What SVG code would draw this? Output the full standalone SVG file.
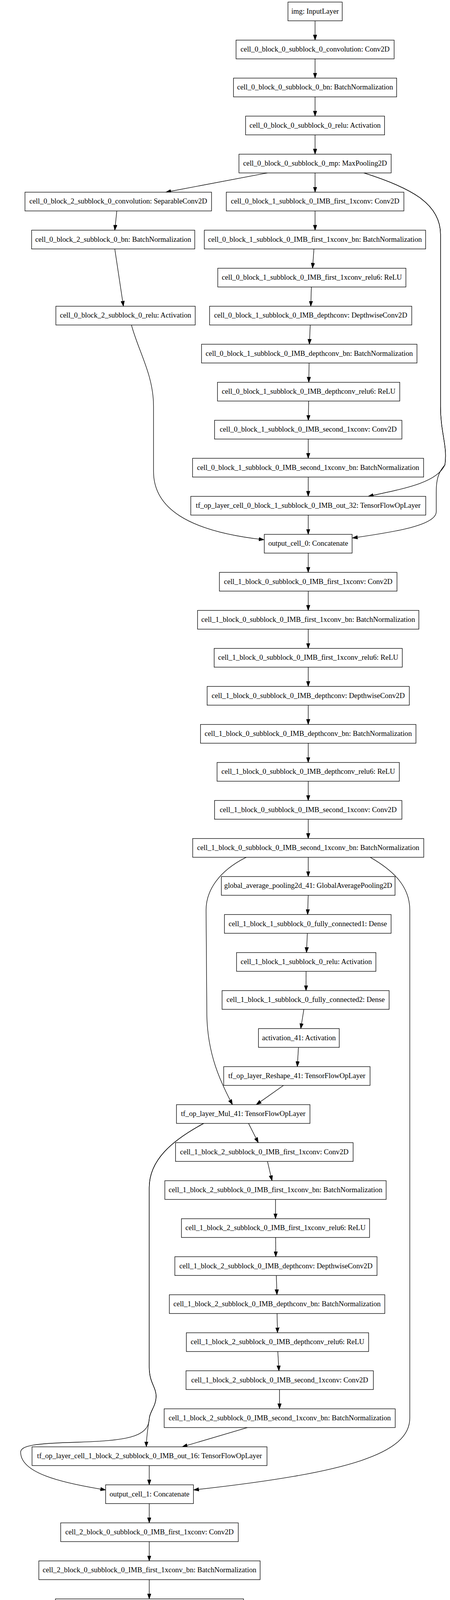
<svg xmlns="http://www.w3.org/2000/svg" width="1153" height="6192" viewBox="0 0 1153 6192">
<style>
.node rect{fill:#fff;stroke:#000;stroke-width:1.33}
.node text{font-family:"Liberation Serif","Times New Roman",serif;font-size:18.67px;text-anchor:middle;fill:#000}
.e{fill:none;stroke:#000;stroke-width:1.33;marker-end:url(#arr)}
.ah{fill:#000;stroke:#000;stroke-width:1}
</style>
<defs>
<marker id="arr" viewBox="0 0 14 10" refX="13.3" refY="5" markerWidth="14" markerHeight="10" markerUnits="userSpaceOnUse" orient="auto"><path class="ah" d="M0,0.4 L13.3,5 L0,9.6 z"/></marker>
</defs>
<rect x="0" y="0" width="1153" height="6192" fill="#fff"/>
<g id="edges">
<path class="e" d="M807.3,53.33 L807.3,102.66"/>
<path class="e" d="M807.3,150.66 L807.3,199.99"/>
<path class="e" d="M807.3,247.99 L807.3,297.32"/>
<path class="e" d="M807.3,345.32 L807.3,394.65"/>
<path class="e" d="M685.3,442.65 L425,491.98"/>
<path class="e" d="M807.3,442.65 L807.3,491.98"/>
<path class="e" d="M932.4,442.65 C1050,480 1128.7,520 1128.7,600 L1128.7,1040 C1128.7,1110 1147,1140 1140,1190 C1120,1235 1040,1250 943.4,1270.62"/>
<path class="e" d="M932.4,442.65 C1050,480 1128.7,520 1128.7,600 L1128.7,1040 C1128.7,1110 1147,1140 1140,1190 C1122,1210 1117.7,1230 1117.7,1260 L1117.7,1310 C1117.7,1345 1010,1362 903,1377.3"/>
<path class="e" d="M336.8,831.97 C355,900 393.4,960 393.4,1040 L393.4,1207 C393.4,1300 480,1360 676.5,1381.7"/>
<path class="e" d="M299.3,539.98 L294.1,589.31"/>
<path class="e" d="M294.1,637.31 L316.2,783.97"/>
<path class="e" d="M807.3,539.98 L807.3,589.31"/>
<path class="e" d="M804.4,637.31 L800.8,686.64"/>
<path class="e" d="M797.8,734.64 L796.3,783.97"/>
<path class="e" d="M794.9,831.97 L792.7,881.3"/>
<path class="e" d="M791.9,929.3 L791.2,978.63"/>
<path class="e" d="M790.8,1026.63 L790,1075.96"/>
<path class="e" d="M789.7,1123.96 L789.7,1173.29"/>
<path class="e" d="M789.7,1221.29 L789.7,1270.62"/>
<path class="e" d="M789.7,1318.62 L789.7,1367.95"/>
<path class="e" d="M789.7,1415.95 L789.7,1465.28"/>
<path class="e" d="M789.7,1513.28 L789.7,1562.61"/>
<path class="e" d="M789.7,1610.61 L789.7,1659.94"/>
<path class="e" d="M789.7,1707.94 L789.7,1757.27"/>
<path class="e" d="M789.7,1805.27 L789.7,1854.6"/>
<path class="e" d="M789.7,1902.6 L789.7,1951.93"/>
<path class="e" d="M789.7,1999.93 L789.7,2049.26"/>
<path class="e" d="M789.7,2097.26 L789.7,2146.59"/>
<path class="e" d="M789.7,2194.59 L789.7,2243.92"/>
<path class="e" d="M789.7,2291.92 L788.2,2341.25"/>
<path class="e" d="M787.5,2389.25 L785.3,2438.58"/>
<path class="e" d="M784.3,2486.58 L784.1,2535.91"/>
<path class="e" d="M778.6,2583.91 L770.6,2633.24"/>
<path class="e" d="M764.7,2681.24 L761.8,2730.57"/>
<path class="e" d="M726.5,2778.57 L656.6,2827.9"/>
<path class="e" d="M630.9,2194.59 C560,2230 528,2280 528,2330 L530,2600 C532,2700 565,2770 595.6,2827.9"/>
<path class="e" d="M948.6,2194.59 C1010,2230 1050,2270 1050,2330 L1050,3630 C1050,3720 900,3770 496.3,3814.2"/>
<path class="e" d="M636.8,2875.9 L661.8,2925.23"/>
<path class="e" d="M522,2875.9 C440,2920 382.4,2970 382.4,3040 L382.4,3500 C382.4,3540 400,3550 400,3575 C400,3600 382.4,3615 382.4,3633 C378,3660 375,3680 375,3703.87"/>
<path class="e" d="M522,2875.9 C440,2920 382.4,2970 382.4,3040 L382.4,3500 C382.4,3540 400,3550 400,3575 C400,3600 382.4,3615 382.4,3633 C380,3680 320,3688 200,3692 C90,3695 50,3700 53,3720 C56,3770 150,3795 270.6,3814.2"/>
<path class="e" d="M685.3,2973.23 L697,3022.56"/>
<path class="e" d="M705.9,3070.56 L705.9,3119.89"/>
<path class="e" d="M706.3,3167.89 L706.6,3217.22"/>
<path class="e" d="M708,3265.22 L709.6,3314.55"/>
<path class="e" d="M709.9,3362.55 L711,3411.88"/>
<path class="e" d="M711.8,3459.88 L714.7,3509.21"/>
<path class="e" d="M716.2,3557.21 L716.2,3606.54"/>
<path class="e" d="M633.8,3654.54 L466.9,3703.87"/>
<path class="e" d="M382.4,3751.87 L382.4,3801.2"/>
<path class="e" d="M382.4,3849.2 L382.4,3898.53"/>
<path class="e" d="M382.4,3946.53 L382.4,3995.86"/>
<path class="e" d="M382.4,4043.86 L382.4,4093.19"/>
<path class="e" d="M382.4,4141.19 L382.4,4190.52"/>
<path class="e" d="M382.4,4238.52 L382.4,4287.85"/>
<path class="e" d="M382.4,4335.85 L382.4,4385.18"/>
<path class="e" d="M382.4,4433.18 L382.4,4482.51"/>
<path class="e" d="M382.4,4530.51 L382.4,4579.84"/>
<path class="e" d="M349.3,4627.84 L279.4,4677.17"/>
<path class="e" d="M437.5,4627.84 C490,4670 522,4710 522,4770 L522,5210 C522,5290 470,5330 387.5,5362"/>
<path class="e" d="M244.9,4725.17 L244.9,4774.5"/>
<path class="e" d="M244.9,4822.5 L244.9,4871.83"/>
<path class="e" d="M251.5,4919.83 L264.7,4969.16"/>
<path class="e" d="M132.4,4919.83 C70,4950 29.4,5000 29.4,5060 L29.4,5210 C29.4,5290 80,5330 161.8,5362"/>
<path class="e" d="M273.4,5017.16 L274.2,5066.49"/>
<path class="e" d="M275.2,5114.49 L275.2,5163.82"/>
<path class="e" d="M275.2,5211.82 L275.2,5261.15"/>
<path class="e" d="M275.2,5309.15 L275.2,5358.48"/>
<path class="e" d="M275.2,5406.48 L275.2,5455.81"/>
<path class="e" d="M275.2,5503.81 L275.2,5553.14"/>
<path class="e" d="M275.2,5601.14 L275.2,5650.47"/>
<path class="e" d="M275.2,5698.47 L275.2,5747.8"/>
<path class="e" d="M275.2,5795.8 L275.2,5845.13"/>
<path class="e" d="M275.2,5893.13 L275.2,5942.46"/>
<path class="e" d="M275.2,5990.46 L275.2,6039.79"/>
<path class="e" d="M275.2,6087.79 L275.2,6137.12"/>
</g>
<g id="n1" class="node"><rect x="737.8" y="5.33" width="139" height="48"/><text x="807.3" y="34.83">img: InputLayer</text></g>
<g id="n2" class="node"><rect x="604.8" y="102.66" width="405" height="48"/><text x="807.3" y="132.16">cell_0_block_0_subblock_0_convolution: Conv2D</text></g>
<g id="n3" class="node"><rect x="598.3" y="199.99" width="418" height="48"/><text x="807.3" y="229.49">cell_0_block_0_subblock_0_bn: BatchNormalization</text></g>
<g id="n4" class="node"><rect x="629.3" y="297.32" width="356" height="48"/><text x="807.3" y="326.82">cell_0_block_0_subblock_0_relu: Activation</text></g>
<g id="n5" class="node"><rect x="612.3" y="394.65" width="390" height="48"/><text x="807.3" y="424.15">cell_0_block_0_subblock_0_mp: MaxPooling2D</text></g>
<g id="n6a" class="node"><rect x="64" y="491.98" width="478" height="48"/><text x="303" y="521.48">cell_0_block_2_subblock_0_convolution: SeparableConv2D</text></g>
<g id="n6b" class="node"><rect x="579.8" y="491.98" width="455" height="48"/><text x="807.3" y="521.48">cell_0_block_1_subblock_0_IMB_first_1xconv: Conv2D</text></g>
<g id="n7a" class="node"><rect x="81" y="589.31" width="418" height="48"/><text x="290" y="618.81">cell_0_block_2_subblock_0_bn: BatchNormalization</text></g>
<g id="n7b" class="node"><rect x="523.5" y="589.31" width="567" height="48"/><text x="807" y="618.81">cell_0_block_1_subblock_0_IMB_first_1xconv_bn: BatchNormalization</text></g>
<g id="n8" class="node"><rect x="558" y="686.64" width="482" height="48"/><text x="799" y="716.14">cell_0_block_1_subblock_0_IMB_first_1xconv_relu6: ReLU</text></g>
<g id="n9a" class="node"><rect x="143.2" y="783.97" width="357" height="48"/><text x="321.7" y="813.47">cell_0_block_2_subblock_0_relu: Activation</text></g>
<g id="n9b" class="node"><rect x="537" y="783.97" width="518" height="48"/><text x="796" y="813.47">cell_0_block_1_subblock_0_IMB_depthconv: DepthwiseConv2D</text></g>
<g id="n10" class="node"><rect x="516.4" y="881.3" width="552" height="48"/><text x="792.4" y="910.8">cell_0_block_1_subblock_0_IMB_depthconv_bn: BatchNormalization</text></g>
<g id="n11" class="node"><rect x="557.3" y="978.63" width="467" height="48"/><text x="790.8" y="1008.13">cell_0_block_1_subblock_0_IMB_depthconv_relu6: ReLU</text></g>
<g id="n12" class="node"><rect x="549.7" y="1075.96" width="480" height="48"/><text x="789.7" y="1105.46">cell_0_block_1_subblock_0_IMB_second_1xconv: Conv2D</text></g>
<g id="n13" class="node"><rect x="493.4" y="1173.29" width="592" height="48"/><text x="789.4" y="1202.79">cell_0_block_1_subblock_0_IMB_second_1xconv_bn: BatchNormalization</text></g>
<g id="n14" class="node"><rect x="488.8" y="1270.62" width="602" height="48"/><text x="789.8" y="1300.12">tf_op_layer_cell_0_block_1_subblock_0_IMB_out_32: TensorFlowOpLayer</text></g>
<g id="n15" class="node"><rect x="677.2" y="1367.95" width="225" height="48"/><text x="789.7" y="1397.45">output_cell_0: Concatenate</text></g>
<g id="n16" class="node"><rect x="562.2" y="1465.28" width="455" height="48"/><text x="789.7" y="1494.78">cell_1_block_0_subblock_0_IMB_first_1xconv: Conv2D</text></g>
<g id="n17" class="node"><rect x="506.2" y="1562.61" width="567" height="48"/><text x="789.7" y="1592.11">cell_1_block_0_subblock_0_IMB_first_1xconv_bn: BatchNormalization</text></g>
<g id="n18" class="node"><rect x="548.7" y="1659.94" width="482" height="48"/><text x="789.7" y="1689.44">cell_1_block_0_subblock_0_IMB_first_1xconv_relu6: ReLU</text></g>
<g id="n19" class="node"><rect x="530.7" y="1757.27" width="518" height="48"/><text x="789.7" y="1786.77">cell_1_block_0_subblock_0_IMB_depthconv: DepthwiseConv2D</text></g>
<g id="n20" class="node"><rect x="513.7" y="1854.6" width="552" height="48"/><text x="789.7" y="1884.1">cell_1_block_0_subblock_0_IMB_depthconv_bn: BatchNormalization</text></g>
<g id="n21" class="node"><rect x="556.2" y="1951.93" width="467" height="48"/><text x="789.7" y="1981.43">cell_1_block_0_subblock_0_IMB_depthconv_relu6: ReLU</text></g>
<g id="n22" class="node"><rect x="549.7" y="2049.26" width="480" height="48"/><text x="789.7" y="2078.76">cell_1_block_0_subblock_0_IMB_second_1xconv: Conv2D</text></g>
<g id="n23" class="node"><rect x="493.7" y="2146.59" width="592" height="48"/><text x="789.7" y="2176.09">cell_1_block_0_subblock_0_IMB_second_1xconv_bn: BatchNormalization</text></g>
<g id="n24" class="node"><rect x="567.2" y="2243.92" width="445" height="48"/><text x="789.7" y="2273.42">global_average_pooling2d_41: GlobalAveragePooling2D</text></g>
<g id="n25" class="node"><rect x="575.1" y="2341.25" width="427" height="48"/><text x="788.6" y="2370.75">cell_1_block_1_subblock_0_fully_connected1: Dense</text></g>
<g id="n26" class="node"><rect x="606.1" y="2438.58" width="357" height="48"/><text x="784.6" y="2468.08">cell_1_block_1_subblock_0_relu: Activation</text></g>
<g id="n27" class="node"><rect x="569" y="2535.91" width="428" height="48"/><text x="783" y="2565.41">cell_1_block_1_subblock_0_fully_connected2: Dense</text></g>
<g id="n28" class="node"><rect x="662.3" y="2633.24" width="207" height="48"/><text x="765.8" y="2662.74">activation_41: Activation</text></g>
<g id="n29" class="node"><rect x="573.2" y="2730.57" width="375" height="48"/><text x="760.7" y="2760.07">tf_op_layer_Reshape_41: TensorFlowOpLayer</text></g>
<g id="n30" class="node"><rect x="452.2" y="2827.9" width="342" height="48"/><text x="623.2" y="2857.4">tf_op_layer_Mul_41: TensorFlowOpLayer</text></g>
<g id="n31" class="node"><rect x="449.7" y="2925.23" width="455" height="48"/><text x="677.2" y="2954.73">cell_1_block_2_subblock_0_IMB_first_1xconv: Conv2D</text></g>
<g id="n32" class="node"><rect x="422.4" y="3022.56" width="567" height="48"/><text x="705.9" y="3052.06">cell_1_block_2_subblock_0_IMB_first_1xconv_bn: BatchNormalization</text></g>
<g id="n33" class="node"><rect x="464.9" y="3119.89" width="482" height="48"/><text x="705.9" y="3149.39">cell_1_block_2_subblock_0_IMB_first_1xconv_relu6: ReLU</text></g>
<g id="n34" class="node"><rect x="448" y="3217.22" width="518" height="48"/><text x="707" y="3246.72">cell_1_block_2_subblock_0_IMB_depthconv: DepthwiseConv2D</text></g>
<g id="n35" class="node"><rect x="433.9" y="3314.55" width="552" height="48"/><text x="709.9" y="3344.05">cell_1_block_2_subblock_0_IMB_depthconv_bn: BatchNormalization</text></g>
<g id="n36" class="node"><rect x="477.5" y="3411.88" width="467" height="48"/><text x="711" y="3441.38">cell_1_block_2_subblock_0_IMB_depthconv_relu6: ReLU</text></g>
<g id="n37" class="node"><rect x="476.6" y="3509.21" width="480" height="48"/><text x="716.6" y="3538.71">cell_1_block_2_subblock_0_IMB_second_1xconv: Conv2D</text></g>
<g id="n38" class="node"><rect x="420.6" y="3606.54" width="592" height="48"/><text x="716.6" y="3636.04">cell_1_block_2_subblock_0_IMB_second_1xconv_bn: BatchNormalization</text></g>
<g id="n39" class="node"><rect x="82.1" y="3703.87" width="602" height="48"/><text x="383.1" y="3733.37">tf_op_layer_cell_1_block_2_subblock_0_IMB_out_16: TensorFlowOpLayer</text></g>
<g id="n40" class="node"><rect x="270.6" y="3801.2" width="225" height="48"/><text x="383.1" y="3830.7">output_cell_1: Concatenate</text></g>
<g id="n41" class="node"><rect x="155.5" y="3898.53" width="455" height="48"/><text x="383" y="3928.03">cell_2_block_0_subblock_0_IMB_first_1xconv: Conv2D</text></g>
<g id="n42" class="node"><rect x="99.5" y="3995.86" width="567" height="48"/><text x="383" y="4025.36">cell_2_block_0_subblock_0_IMB_first_1xconv_bn: BatchNormalization</text></g>
<g id="n43" class="node"><rect x="142" y="4093.19" width="482" height="48"/><text x="383" y="4122.69">cell_2_block_0_subblock_0_IMB_first_1xconv_relu6: ReLU</text></g>
<g id="n44" class="node"><rect x="124" y="4190.52" width="518" height="48"/><text x="383" y="4220.02">cell_2_block_0_subblock_0_IMB_depthconv: DepthwiseConv2D</text></g>
<g id="n45" class="node"><rect x="107" y="4287.85" width="552" height="48"/><text x="383" y="4317.35">cell_2_block_0_subblock_0_IMB_depthconv_bn: BatchNormalization</text></g>
<g id="n46" class="node"><rect x="149.5" y="4385.18" width="467" height="48"/><text x="383" y="4414.68">cell_2_block_0_subblock_0_IMB_depthconv_relu6: ReLU</text></g>
<g id="n47" class="node"><rect x="143" y="4482.51" width="480" height="48"/><text x="383" y="4512.01">cell_2_block_0_subblock_0_IMB_second_1xconv: Conv2D</text></g>
<g id="n48" class="node"><rect x="87" y="4579.84" width="592" height="48"/><text x="383" y="4609.34">cell_2_block_0_subblock_0_IMB_second_1xconv_bn: BatchNormalization</text></g>
<g id="n49" class="node"><rect x="5.5" y="4677.17" width="478" height="48"/><text x="244.5" y="4706.67">cell_2_block_1_subblock_0_convolution: SeparableConv2D</text></g>
<g id="n50" class="node"><rect x="35.5" y="4774.5" width="418" height="48"/><text x="244.5" y="4804">cell_2_block_1_subblock_0_bn: BatchNormalization</text></g>
<g id="n51" class="node"><rect x="66" y="4871.83" width="357" height="48"/><text x="244.5" y="4901.33">cell_2_block_1_subblock_0_relu: Activation</text></g>
<g id="n52" class="node"><rect x="69.5" y="4969.16" width="405" height="48"/><text x="272" y="4998.66">cell_2_block_2_subblock_0_convolution: Conv2D</text></g>
<g id="n53" class="node"><rect x="65.7" y="5066.49" width="419" height="48"/><text x="275.2" y="5095.99">cell_2_block_2_subblock_0_bn: BatchNormalization</text></g>
<g id="n54" class="node"><rect x="96.7" y="5163.82" width="357" height="48"/><text x="275.2" y="5193.32">cell_2_block_2_subblock_0_relu: Activation</text></g>
<g id="n55" class="node"><rect x="79.7" y="5261.15" width="391" height="48"/><text x="275.2" y="5290.65">cell_2_block_2_subblock_0_mp: MaxPooling2D</text></g>
<g id="n56" class="node"><rect x="162.7" y="5358.48" width="225" height="48"/><text x="275.2" y="5387.98">output_cell_2: Concatenate</text></g>
<g id="n57" class="node"><rect x="72.7" y="5455.81" width="405" height="48"/><text x="275.2" y="5485.31">cell_3_block_0_subblock_0_convolution: Conv2D</text></g>
<g id="n58" class="node"><rect x="65.7" y="5553.14" width="419" height="48"/><text x="275.2" y="5582.64">cell_3_block_0_subblock_0_bn: BatchNormalization</text></g>
<g id="n59" class="node"><rect x="96.7" y="5650.47" width="357" height="48"/><text x="275.2" y="5679.97">cell_3_block_0_subblock_0_relu: Activation</text></g>
<g id="n60" class="node"><rect x="72.7" y="5747.8" width="405" height="48"/><text x="275.2" y="5777.3">cell_4_block_0_subblock_0_convolution: Conv2D</text></g>
<g id="n61" class="node"><rect x="65.7" y="5845.13" width="419" height="48"/><text x="275.2" y="5874.63">cell_4_block_0_subblock_0_bn: BatchNormalization</text></g>
<g id="n62" class="node"><rect x="96.7" y="5942.46" width="357" height="48"/><text x="275.2" y="5971.96">cell_4_block_0_subblock_0_relu: Activation</text></g>
<g id="n63" class="node"><rect x="55.7" y="6039.79" width="439" height="48"/><text x="275.2" y="6069.29">classification_global_pooling: GlobalAveragePooling2D</text></g>
<g id="n64" class="node"><rect x="171.7" y="6137.12" width="207" height="48"/><text x="275.2" y="6166.62">classification_out: Dense</text></g>
</svg>
